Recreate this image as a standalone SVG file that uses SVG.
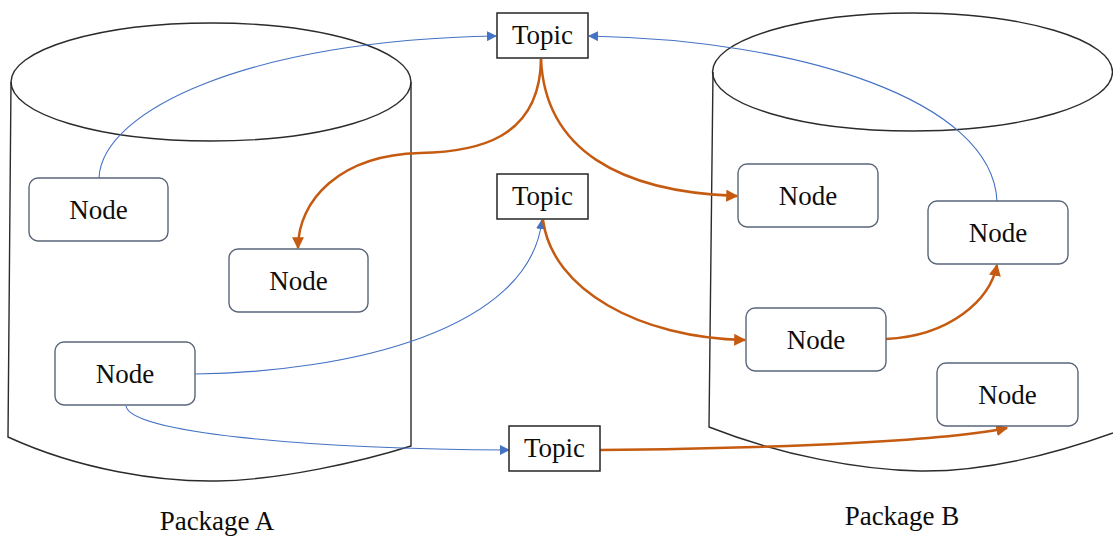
<svg xmlns="http://www.w3.org/2000/svg" width="1113" height="536" viewBox="0 0 1113 536">
<style>
.cyl{fill:none;stroke:#2b2b2b;stroke-width:1.4}
.node rect{fill:#fff;stroke:#5a6678;stroke-width:1.4}
.topic rect{fill:#fff;stroke:#262626;stroke-width:1.5}
text{font-family:"Liberation Serif","Times New Roman",serif;font-size:27px;fill:#0d0d0d;text-anchor:middle}
.blue{fill:none;stroke:#4472c4;stroke-width:1.1}
.orange{fill:none;stroke:#c55a11;stroke-width:2.5}
</style>
<defs>
<marker id="ab" viewBox="0 0 10 10" refX="9" refY="5" markerWidth="10" markerHeight="10" markerUnits="userSpaceOnUse" orient="auto">
<path d="M0,0 L10,5 L0,10 z" fill="#4472c4"/>
</marker>
<marker id="ao" viewBox="0 0 10 10" refX="9" refY="5" markerWidth="12" markerHeight="12" markerUnits="userSpaceOnUse" orient="auto">
<path d="M0,0 L10,5 L0,10 z" fill="#c55a11"/>
</marker>
</defs>
<g id="packageA">
<ellipse class="cyl" cx="211" cy="82" rx="200" ry="59"/>
<path class="cyl" d="M11 82 L8 437 C80 470 160 482 217 481 C280 480 360 462 411 446 L411 82"/>
<text x="217" y="530">Package A</text>
</g>
<g id="packageB">
<ellipse class="cyl" cx="912.5" cy="72" rx="200" ry="59"/>
<path class="cyl" d="M713 72 L709 427 C780 455 860 470 920 471 C990 472 1060 452 1113 433"/>
<text x="902" y="525">Package B</text>
</g>
<g id="connectors">
<path class="blue" marker-end="url(#ab)" d="M99 178 C102 110 250 40 496 36"/>
<path class="blue" marker-end="url(#ab)" d="M997 201 C992 100 800 40 589 36"/>
<path class="blue" marker-end="url(#ab)" d="M195 374 C350 372 530 330 542 220"/>
<path class="blue" marker-end="url(#ab)" d="M126 406 C130 432 300 449 509 450"/>
<path class="orange" marker-end="url(#ao)" d="M541 59 C540 140 475 152 420 153 C340 155 298 200 298 248"/>
<path class="orange" marker-end="url(#ao)" d="M541 59 C545 150 620 192 737 196"/>
<path class="orange" marker-end="url(#ao)" d="M543 220 C552 290 640 338 745 340"/>
<path class="orange" marker-end="url(#ao)" d="M886 339 C950 336 990 300 997 265"/>
<path class="orange" marker-end="url(#ao)" d="M600 450 C800 448 950 440 1007 428"/>
</g>
<g id="topic1" class="topic"><rect x="497" y="13" width="91" height="45"/><text x="542.5" y="44">Topic</text></g>
<g id="topic2" class="topic"><rect x="497" y="174" width="91" height="45"/><text x="542.5" y="205">Topic</text></g>
<g id="topic3" class="topic"><rect x="509" y="426" width="91" height="45"/><text x="554.5" y="457">Topic</text></g>
<g id="nodeA1" class="node"><rect x="29" y="178" width="139" height="63" rx="9"/><text x="98.5" y="219">Node</text></g>
<g id="nodeA2" class="node"><rect x="229" y="249" width="139" height="63" rx="9"/><text x="298.5" y="290">Node</text></g>
<g id="nodeA3" class="node"><rect x="55" y="342" width="140" height="63" rx="9"/><text x="125" y="383">Node</text></g>
<g id="nodeB1" class="node"><rect x="738" y="164" width="140" height="63" rx="9"/><text x="808" y="205">Node</text></g>
<g id="nodeB2" class="node"><rect x="928" y="201" width="140" height="63" rx="9"/><text x="998" y="242">Node</text></g>
<g id="nodeB3" class="node"><rect x="746" y="308" width="140" height="63" rx="9"/><text x="816" y="349">Node</text></g>
<g id="nodeB4" class="node"><rect x="937" y="363" width="141" height="63" rx="9"/><text x="1007.5" y="404">Node</text></g>
</svg>
